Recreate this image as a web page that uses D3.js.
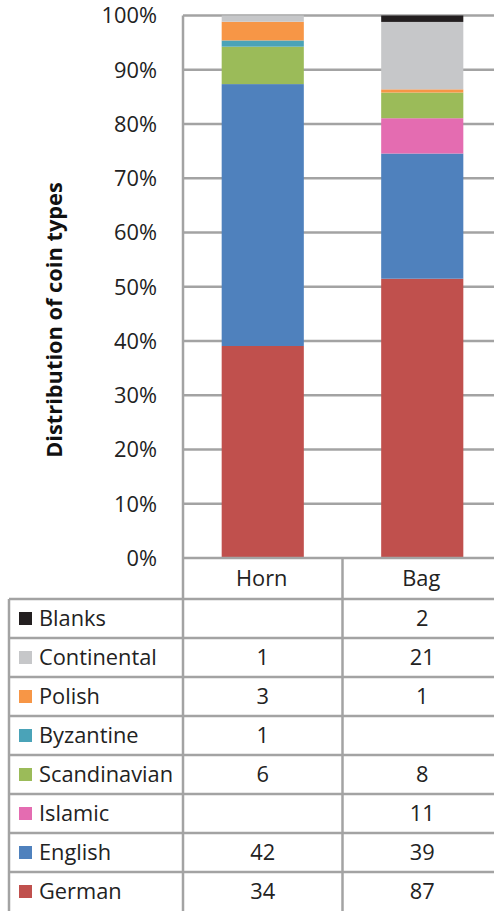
<!DOCTYPE html>
<html>
<head>
    <meta charset="UTF-8">
    <title>Distribution of coin types</title>
    <script src="https://d3js.org/d3.v7.min.js"></script>
    <style>
        body { margin: 0; background: #fff; }
        svg { font-family: "Open Sans", Lato, sans-serif; display: block; }
    </style>
</head>
<body>
    <svg></svg>
    <script>
        // hoard finds, coin counts per category
        const categories = ['Horn', 'Bag'];
        const seriesNames = ['German', 'English', 'Islamic', 'Scandinavian', 'Byzantine', 'Polish', 'Continental', 'Blanks'];
        const hornCounts = [34, 42, null, 6, 1, 3, 1, null];
        const bagCounts = [87, 39, 11, 8, null, 1, 21, 2];
        const seriesColors = ['#c0504d', '#4f81bd', '#e46cb1', '#9bbb59', '#4aa3b8', '#f79646', '#c6c7c9', '#231f20'];
        const yTicks = [0, 0.1, 0.2, 0.3, 0.4, 0.5, 0.6, 0.7, 0.8, 0.9, 1];

        const W = 494, H = 911;
        const plotLeft = 183, plotRight = 502, plotTop = 15.5, plotBottom = 558;
        const headerBottom = 599, tableLeft = 9;
        const lineColor = '#a3a3a3';
        const fs = 21.8;

        const svg = d3.select('svg').attr('width', W).attr('height', H);

        const rows = categories.map((c, i) => {
            const counts = i === 0 ? hornCounts : bagCounts;
            const o = { category: c };
            seriesNames.forEach((s, j) => o[s] = counts[j] || 0);
            return o;
        });

        const stacked = d3.stack()
            .keys(seriesNames)
            .offset(d3.stackOffsetExpand)(rows);

        const x = d3.scaleBand().domain(categories).range([plotLeft, plotRight]).padding(0);
        const y = d3.scaleLinear().domain([0, 1]).range([plotBottom, plotTop]);
        const color = d3.scaleOrdinal().domain(seriesNames).range(seriesColors);
        const barW = x.bandwidth() * 0.515;

        // gridlines
        svg.append('g').selectAll('line')
            .data(yTicks.slice(1))
            .enter().append('line')
            .attr('x1', plotLeft).attr('x2', W)
            .attr('y1', d => y(d)).attr('y2', d => y(d))
            .attr('stroke', lineColor).attr('stroke-width', 2.5);

        // bars
        svg.append('g').selectAll('g')
            .data(stacked)
            .enter().append('g')
            .attr('fill', d => color(d.key))
            .selectAll('rect')
            .data(d => d)
            .enter().append('rect')
            .attr('x', d => x(d.data.category) + (x.bandwidth() - barW) / 2)
            .attr('width', barW)
            .attr('y', d => y(d[1]))
            .attr('height', d => y(d[0]) - y(d[1]));

        // y tick labels
        svg.append('g').selectAll('text')
            .data(yTicks)
            .enter().append('text')
            .attr('x', 157)
            .attr('y', d => y(d))
            .attr('dy', '0.36em')
            .attr('text-anchor', 'end')
            .attr('font-size', fs)
            .attr('fill', '#222')
            .text(d3.format('.0%'));

        svg.append('text')
            .attr('transform', `translate(62,320) rotate(-90)`)
            .attr('text-anchor', 'middle')
            .attr('font-size', 21.8)
            .attr('font-weight', 'bold')
            .attr('fill', '#111')
            .text('Distribution of coin types');

        // data table
        const tableRows = seriesNames.slice().reverse();
        const r = d3.scaleBand().domain(tableRows).range([headerBottom, H]);

        const table = svg.append('g');
        const bagX = x('Bag');

        // horizontal rules
        table.selectAll('.hrule')
            .data(tableRows)
            .enter().append('line')
            .attr('x1', tableLeft).attr('x2', W)
            .attr('y1', d => r(d)).attr('y2', d => r(d))
            .attr('stroke', lineColor).attr('stroke-width', 2.5);
        table.append('line')
            .attr('x1', plotLeft).attr('x2', W)
            .attr('y1', plotBottom).attr('y2', plotBottom)
            .attr('stroke', lineColor).attr('stroke-width', 2.5);

        // vertical rules
        table.append('line')
            .attr('x1', plotLeft).attr('x2', plotLeft).attr('y1', plotTop).attr('y2', H)
            .attr('stroke', lineColor).attr('stroke-width', 2.5);
        table.append('line')
            .attr('x1', bagX).attr('x2', bagX).attr('y1', plotBottom).attr('y2', H)
            .attr('stroke', lineColor).attr('stroke-width', 2.5);
        table.append('line')
            .attr('x1', tableLeft).attr('x2', tableLeft).attr('y1', headerBottom).attr('y2', H)
            .attr('stroke', lineColor).attr('stroke-width', 2.5);

        // header
        table.selectAll('.head')
            .data(categories)
            .enter().append('text')
            .attr('x', d => x(d) + x.bandwidth() / 2 - 1)
            .attr('y', (plotBottom + headerBottom) / 2)
            .attr('dy', '0.36em')
            .attr('text-anchor', 'middle')
            .attr('font-size', fs)
            .attr('fill', '#222')
            .text(d => d);

        // legend keys
        const rowG = table.selectAll('.row')
            .data(tableRows)
            .enter().append('g')
            .attr('transform', d => `translate(0,${r(d) + r.bandwidth() / 2})`);

        rowG.append('rect')
            .attr('x', 19).attr('y', -6.5)
            .attr('width', 13).attr('height', 13)
            .attr('fill', d => color(d));

        rowG.append('text')
            .attr('x', 39)
            .attr('dy', '0.36em')
            .attr('font-size', fs)
            .attr('fill', '#222')
            .text(d => d);

        rowG.selectAll('.val')
            .data(d => categories.map((c, i) => {
                const counts = i === 0 ? hornCounts : bagCounts;
                return { category: c, v: counts[seriesNames.indexOf(d)] };
            }))
            .enter().append('text')
            .attr('x', d => x(d.category) + x.bandwidth() / 2)
            .attr('dy', '0.36em')
            .attr('text-anchor', 'middle')
            .attr('font-size', fs)
            .attr('fill', '#222')
            .text(d => d.v == null ? '' : d.v);
    </script>
</body>
</html>
